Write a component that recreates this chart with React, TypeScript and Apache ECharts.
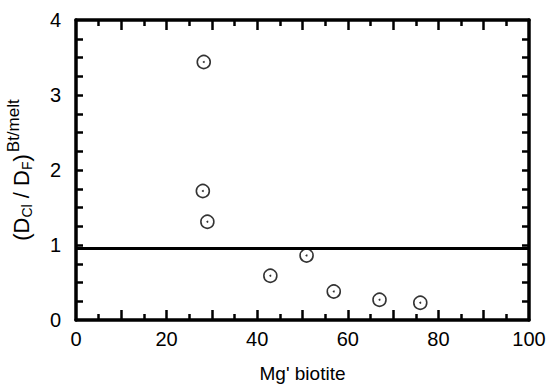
import React, { useEffect, useRef } from "react";
import * as echarts from "echarts";

const mgBiotite = [28.2, 28.0, 29.0, 42.9, 50.9, 56.9, 67.0, 76.0];
const ratio = [3.44, 1.72, 1.31, 0.59, 0.86, 0.38, 0.27, 0.23];
const referenceLine = 0.96;
const xLabels = [0, 20, 40, 60, 80, 100];
const yLabels = [0, 1, 2, 3, 4];
const xMajorTicks = [10, 20, 30, 40, 50, 60, 70, 80, 90];
const xMinorTicks = [5, 15, 25, 35, 45, 55, 65, 75, 85, 95];
const yTicks = [0.25, 0.5, 0.75, 1, 1.25, 1.5, 1.75, 2, 2.25, 2.5, 2.75, 3, 3.25, 3.5, 3.75];

const FONT = "Liberation Sans";
const W = 553;
const H = 388;
const GRID = { left: 76, top: 20, right: 24, bottom: 68 };
const X_MIN = 0, X_MAX = 100, Y_MIN = 0, Y_MAX = 4;

function xAxisDef(position: string, labels: boolean): any {
  return {
    type: "value",
    min: X_MIN,
    max: X_MAX,
    interval: 10,
    position,
    splitLine: { show: false },
    axisLine: { show: true, onZero: false, lineStyle: { color: "#000", width: 3.5 } },
    axisTick: { show: false },
    minorTick: { show: false },
    axisLabel: labels
      ? {
          fontFamily: FONT,
          fontSize: 20,
          color: "#000",
          margin: 9,
          formatter: (v: number) => (xLabels.includes(v) ? String(v) : ""),
        }
      : { show: false },
  };
}

function yAxisDef(position: string, labels: boolean): any {
  return {
    type: "value",
    min: Y_MIN,
    max: Y_MAX,
    interval: 1,
    position,
    splitLine: { show: false },
    axisLine: { show: true, onZero: false, lineStyle: { color: "#000", width: 3.5 } },
    axisTick: { show: false },
    minorTick: { show: false },
    axisLabel: labels
      ? {
          fontFamily: FONT,
          fontSize: 20,
          color: "#000",
          margin: 15,
          formatter: (v: number) => (yLabels.includes(v) ? String(v) : ""),
        }
      : { show: false },
  };
}

export default function App() {
  const ref = useRef<HTMLDivElement>(null);
  useEffect(() => {
    document.body.style.margin = "0";
    const chart = echarts.init(ref.current!, undefined, { renderer: "svg" });
    const pts = mgBiotite.map((x, i) => [x, ratio[i]]);

    // tick lengths in pixels, converted to data units of the perpendicular axis
    const plotW = W - GRID.left - GRID.right;
    const plotH = H - GRID.top - GRID.bottom;
    const yPerPx = (Y_MAX - Y_MIN) / plotH;
    const xPerPx = (X_MAX - X_MIN) / plotW;
    const majX = 10 * yPerPx;
    const minX = 6 * yPerPx;
    const lenY = 7 * xPerPx;

    const tickSegs: any[] = [];
    xMajorTicks.forEach((v) => {
      tickSegs.push([{ coord: [v, Y_MIN] }, { coord: [v, Y_MIN + majX] }]);
      tickSegs.push([{ coord: [v, Y_MAX] }, { coord: [v, Y_MAX - majX] }]);
    });
    xMinorTicks.forEach((v) => {
      tickSegs.push([{ coord: [v, Y_MIN] }, { coord: [v, Y_MIN + minX] }]);
      tickSegs.push([{ coord: [v, Y_MAX] }, { coord: [v, Y_MAX - minX] }]);
    });
    yTicks.forEach((v) => {
      tickSegs.push([{ coord: [X_MIN, v] }, { coord: [X_MIN + lenY, v] }]);
      tickSegs.push([{ coord: [X_MAX, v] }, { coord: [X_MAX - lenY, v] }]);
    });

    const bottomX = xAxisDef("bottom", true);
    bottomX.name = "Mg' biotite";
    bottomX.nameLocation = "middle";
    bottomX.nameGap = 44;
    bottomX.nameTextStyle = { fontFamily: FONT, fontSize: 19, color: "#000" };
    const leftY = yAxisDef("left", true);
    leftY.name = "{b|(D}{s|Cl}{b| / D}{s|F}{b|)}{p|Bt/melt}";
    leftY.nameLocation = "middle";
    leftY.nameRotate = 90;
    leftY.nameGap = 34;
    leftY.nameTextStyle = {
      fontFamily: FONT,
      color: "#000",
      rich: {
        b: { fontFamily: FONT, fontSize: 22, color: "#000", lineHeight: 34, verticalAlign: "middle" },
        s: { fontFamily: FONT, fontSize: 14, color: "#000", lineHeight: 34, verticalAlign: "bottom", padding: [0, 0, 5, 0] },
        p: { fontFamily: FONT, fontSize: 17, color: "#000", lineHeight: 34, verticalAlign: "top", padding: [0, 0, 0, 2] },
      },
    };
    chart.setOption({
      animation: false,
      backgroundColor: "#fff",
      grid: { ...GRID, containLabel: false, outerBoundsMode: "none" },
      xAxis: [bottomX, xAxisDef("top", false)],
      yAxis: [leftY, yAxisDef("right", false)],
      series: [
        {
          type: "scatter",
          data: pts,
          symbol: "circle",
          symbolSize: 13,
          itemStyle: { color: "#fff", borderColor: "#000", borderWidth: 1.6 },
          z: 3,
          markLine: {
            silent: true,
            symbol: ["none", "none"],
            label: { show: false },
            lineStyle: { color: "#000", width: 3, type: "solid" },
            data: [{ yAxis: referenceLine }],
          },
        },
        {
          type: "scatter",
          data: pts,
          symbol: "circle",
          symbolSize: 2,
          itemStyle: { color: "#000" },
          z: 4,
          markLine: {
            silent: true,
            symbol: ["none", "none"],
            label: { show: false },
            lineStyle: { color: "#000", width: 2.5, type: "solid" },
            data: tickSegs,
          },
        },
      ],
    });
    return () => chart.dispose();
  }, []);
  return <div ref={ref} style={{ width: 553, height: 388 }} />;
}
